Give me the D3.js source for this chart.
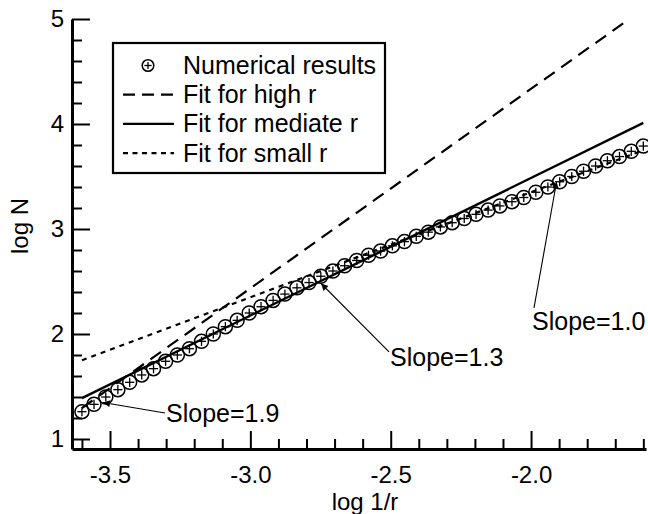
<!DOCTYPE html>
<html>
<head>
<meta charset="utf-8">
<script src="https://cdn.jsdelivr.net/npm/d3@7"></script>
<style>
  html, body { margin: 0; padding: 0; background: #fff; }
  svg { display: block; }
  text { font-family: "Liberation Sans", Arial, Helvetica, sans-serif; fill: #000; }
</style>
</head>
<body>
<svg id="chart" width="648" height="514"></svg>
<script>
// ---------------- data ----------------
const numX = [-3.600,-3.557,-3.515,-3.472,-3.430,-3.387,-3.345,-3.302,-3.260,-3.217,
              -3.174,-3.132,-3.089,-3.047,-3.004,-2.962,-2.919,-2.877,-2.834,-2.791,
              -2.749,-2.706,-2.664,-2.621,-2.579,-2.536,-2.494,-2.451,-2.409,-2.366,
              -2.323,-2.281,-2.238,-2.196,-2.153,-2.111,-2.068,-2.026,-1.983,-1.940,
              -1.898,-1.855,-1.813,-1.770,-1.728,-1.685,-1.643,-1.600];
const numY = [1.26,1.33,1.40,1.47,1.54,1.61,1.67,1.74,1.80,1.86,
              1.93,2.00,2.07,2.13,2.20,2.26,2.32,2.38,2.44,2.49,
              2.55,2.60,2.65,2.70,2.75,2.79,2.84,2.88,2.93,2.97,
              3.02,3.06,3.10,3.14,3.18,3.22,3.26,3.30,3.35,3.40,
              3.45,3.50,3.55,3.60,3.65,3.69,3.74,3.79];

const highFitX = [-3.6, -1.65];
const highFitY = [1.295, 5.0];
const midFitX  = [-3.6, -1.6];
const midFitY  = [1.39, 4.01];
const smallFitX = [-3.6, -1.6];
const smallFitY = [1.75, 3.75];

const legendLabels = ["Numerical results", "Fit for high r", "Fit for mediate r", "Fit for small r"];

const xTickMajor = [-3.5, -3.0, -2.5, -2.0];
const xTickMinor = [-3.6,-3.4,-3.3,-3.2,-3.1,-2.9,-2.8,-2.7,-2.6,-2.4,-2.3,-2.2,-2.1,-1.9,-1.8,-1.7,-1.6];
const yTickMajor = [1, 2, 3, 4, 5];
const yTickMinor = [1.2,1.4,1.6,1.8,2.2,2.4,2.6,2.8,3.2,3.4,3.6,3.8,4.2,4.4,4.6,4.8];

const annoText = ["Slope=1.9", "Slope=1.3", "Slope=1.0"];
const annoTextX = [-3.3005, -2.5025, -1.9966];
const annoTextY = [1.162, 1.695, 2.038];
const annoTailX = [-3.304, -2.506, -1.9895];
const annoTailY = [1.248, 1.829, 2.248];
const annoTipX  = [-3.525, -2.748, -1.909];
const annoTipY  = [1.348, 2.481, 3.45];

const xTitle = "log 1/r";
const yTitle = "log N";

// ---------------- layout ----------------
const svg = d3.select("#chart");
svg.append("rect").attr("width", 648).attr("height", 514).attr("fill", "#fff");

const x = d3.scaleLinear().domain([-3.6354, -1.5905]).range([72, 646]);
const y = d3.scaleLinear().domain([0.9048, 5]).range([449, 19]);

const fmt = d => d.toFixed(1);

// minor ticks
svg.append("g").attr("transform", "translate(0,449)")
  .call(d3.axisBottom(x).tickValues(xTickMinor).tickSize(-10).tickSizeOuter(0).tickFormat(""))
  .call(g => g.select(".domain").remove())
  .call(g => g.selectAll("line").attr("stroke", "#000").attr("stroke-width", 2));
svg.append("g").attr("transform", "translate(72,0)")
  .call(d3.axisLeft(y).tickValues(yTickMinor).tickSize(-10).tickSizeOuter(0).tickFormat(""))
  .call(g => g.select(".domain").remove())
  .call(g => g.selectAll("line").attr("stroke", "#000").attr("stroke-width", 2));

// major axes
const xAxis = svg.append("g").attr("transform", "translate(0,449)")
  .call(d3.axisBottom(x).tickValues(xTickMajor).tickSize(-18).tickSizeOuter(0).tickPadding(17).tickFormat(fmt));
xAxis.select(".domain").attr("stroke", "#000").attr("stroke-width", 3);
xAxis.selectAll("line").attr("stroke", "#000").attr("stroke-width", 2);
xAxis.selectAll("text").attr("font-size", 24).attr("font-family", "Liberation Sans, Arial, sans-serif").attr("fill", "#000");

const yAxis = svg.append("g").attr("transform", "translate(72,0)")
  .call(d3.axisLeft(y).tickValues(yTickMajor).tickSize(-18).tickSizeOuter(0).tickPadding(8).tickFormat(d3.format("d")));
yAxis.select(".domain").attr("stroke", "#000").attr("stroke-width", 3);
yAxis.selectAll("line").attr("stroke", "#000").attr("stroke-width", 2);
yAxis.selectAll("text").attr("font-size", 24).attr("font-family", "Liberation Sans, Arial, sans-serif").attr("fill", "#000");

// axis titles
svg.append("text").attr("x", 365).attr("y", 510).attr("text-anchor", "middle")
  .attr("font-size", 24).text(xTitle);
svg.append("text").attr("transform", "translate(28,226) rotate(-90)").attr("text-anchor", "middle")
  .attr("font-size", 24).text(yTitle);

// fit lines
const line = d3.line().x(d => x(d[0])).y(d => y(d[1]));
const styles = [
  { xs: highFitX, ys: highFitY, dash: "13,8", w: 2.2 },
  { xs: midFitX, ys: midFitY, dash: null, w: 2.4 },
  { xs: smallFitX, ys: smallFitY, dash: "5,5", w: 2.2 }
];
styles.forEach(s => {
  const p = svg.append("path")
    .attr("d", line(d3.zip(s.xs, s.ys)))
    .attr("fill", "none").attr("stroke", "#000").attr("stroke-width", s.w);
  if (s.dash) p.attr("stroke-dasharray", s.dash);
});

// markers
function marker(g, cx, cy, r, arm) {
  g.append("circle").attr("cx", cx).attr("cy", cy).attr("r", r)
    .attr("fill", "none").attr("stroke", "#000").attr("stroke-width", 1.5);
  g.append("line").attr("x1", cx - arm).attr("x2", cx + arm).attr("y1", cy).attr("y2", cy)
    .attr("stroke", "#000").attr("stroke-width", 1.3);
  g.append("line").attr("x1", cx).attr("x2", cx).attr("y1", cy - arm).attr("y2", cy + arm)
    .attr("stroke", "#000").attr("stroke-width", 1.3);
}
const mg = svg.append("g");
d3.zip(numX, numY).forEach(([a, b]) => marker(mg, x(a), y(b), 7, 4.6));

// annotations
const defs = svg.append("defs");
defs.append("marker").attr("id", "arr").attr("viewBox", "0 0 10 10")
  .attr("refX", 10).attr("refY", 5).attr("markerWidth", 10).attr("markerHeight", 7)
  .attr("markerUnits", "userSpaceOnUse").attr("orient", "auto")
  .append("path").attr("d", "M0,0 L10,5 L0,10 Z").attr("fill", "#000");

annoText.forEach((t, i) => {
  svg.append("line")
    .attr("x1", x(annoTailX[i])).attr("y1", y(annoTailY[i]))
    .attr("x2", x(annoTipX[i])).attr("y2", y(annoTipY[i]))
    .attr("stroke", "#000").attr("stroke-width", 1.1).attr("marker-end", "url(#arr)");
  svg.append("text").attr("x", x(annoTextX[i])).attr("y", y(annoTextY[i]))
    .attr("font-size", 25).text(t);
});

// legend
const lg = svg.append("g");
lg.append("rect").attr("x", 113).attr("y", 43).attr("width", 272).attr("height", 130)
  .attr("fill", "#fff").attr("stroke", "#000").attr("stroke-width", 2.2);
legendLabels.forEach((lab, i) => {
  const base = 74 + 29.2 * i;
  lg.append("text").attr("x", 183).attr("y", base).attr("font-size", 25).text(lab);
  const ly = base - 8.5;
  if (i === 0) {
    marker(lg, 148, ly, 5.8, 3.6);
  } else {
    const st = styles[i - 1];
    const p = lg.append("line").attr("x1", 123).attr("x2", 174).attr("y1", ly).attr("y2", ly)
      .attr("stroke", "#000").attr("stroke-width", st.w);
    if (st.dash) p.attr("stroke-dasharray", i === 1 ? "12,7" : "5,4.5");
  }
});
</script>
</body>
</html>
